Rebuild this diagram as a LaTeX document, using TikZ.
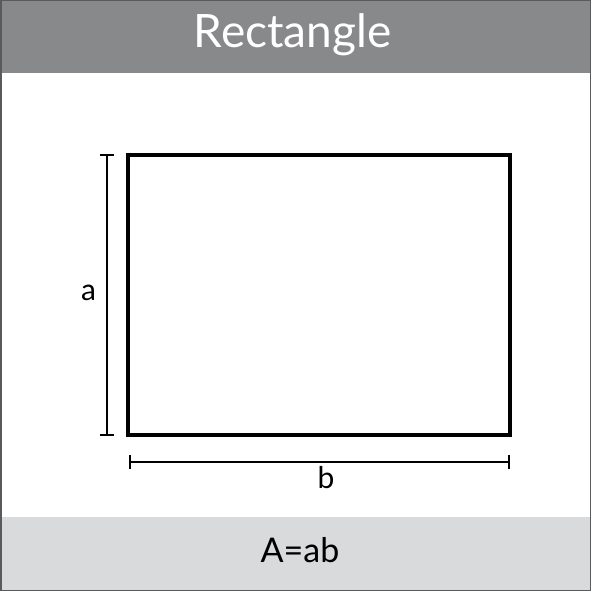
\documentclass[tikz,border=0pt]{standalone}
\usepackage{fontspec}
\setmainfont{Lato}
\definecolor{bandtop}{HTML}{88898B}
\definecolor{bandbot}{HTML}{D9DADB}
\definecolor{frame}{HTML}{5A5A5C}
\tikzset{
  dimline/.style={line width=2pt, black},
  shapebox/.style={draw, line width=4pt, inner sep=0pt, outer sep=0pt},
}
\begin{document}
\begin{tikzpicture}[x=1pt,y=-1pt]
\useasboundingbox (0,0) rectangle (591,591);
\fill[white] (0,0) rectangle (591,591);
\fill[bandtop] (0,0) rectangle (591,73);
\fill[bandbot] (0,517) rectangle (591,591);
\draw[frame, line width=1.5pt] (0.75,0.75) rectangle (590.25,590.25);
\node[anchor=base, text=white, font=\fontsize{46}{46}\selectfont] (title) at (292.5,48) {Rectangle};
\node[anchor=base, font=\fontsize{34}{34}\selectfont] (formula) at (300,562) {A=ab};
\node[shapebox, minimum width=382pt, minimum height=280pt] (rect) at (319,295) {};
% dimension a
\coordinate (at) at (107,155);
\coordinate (ab) at (107,435);
\draw[dimline] (at) -- (ab);
\draw[dimline] ([xshift=-7pt]at) -- ([xshift=7pt]at);
\draw[dimline] ([xshift=-7pt]ab) -- ([xshift=7pt]ab);
\node[anchor=base, font=\fontsize{30}{30}\selectfont] (la) at (88.5,300) {a};
% dimension b
\coordinate (bl) at (130,462);
\coordinate (br) at (509,462);
\draw[dimline] (bl) -- (br);
\draw[dimline] ([yshift=-7pt]bl) -- ([yshift=7pt]bl);
\draw[dimline] ([yshift=-7pt]br) -- ([yshift=7pt]br);
\node[anchor=base, font=\fontsize{30}{30}\selectfont] (lb) at (326,488) {b};
\end{tikzpicture}
\end{document}
